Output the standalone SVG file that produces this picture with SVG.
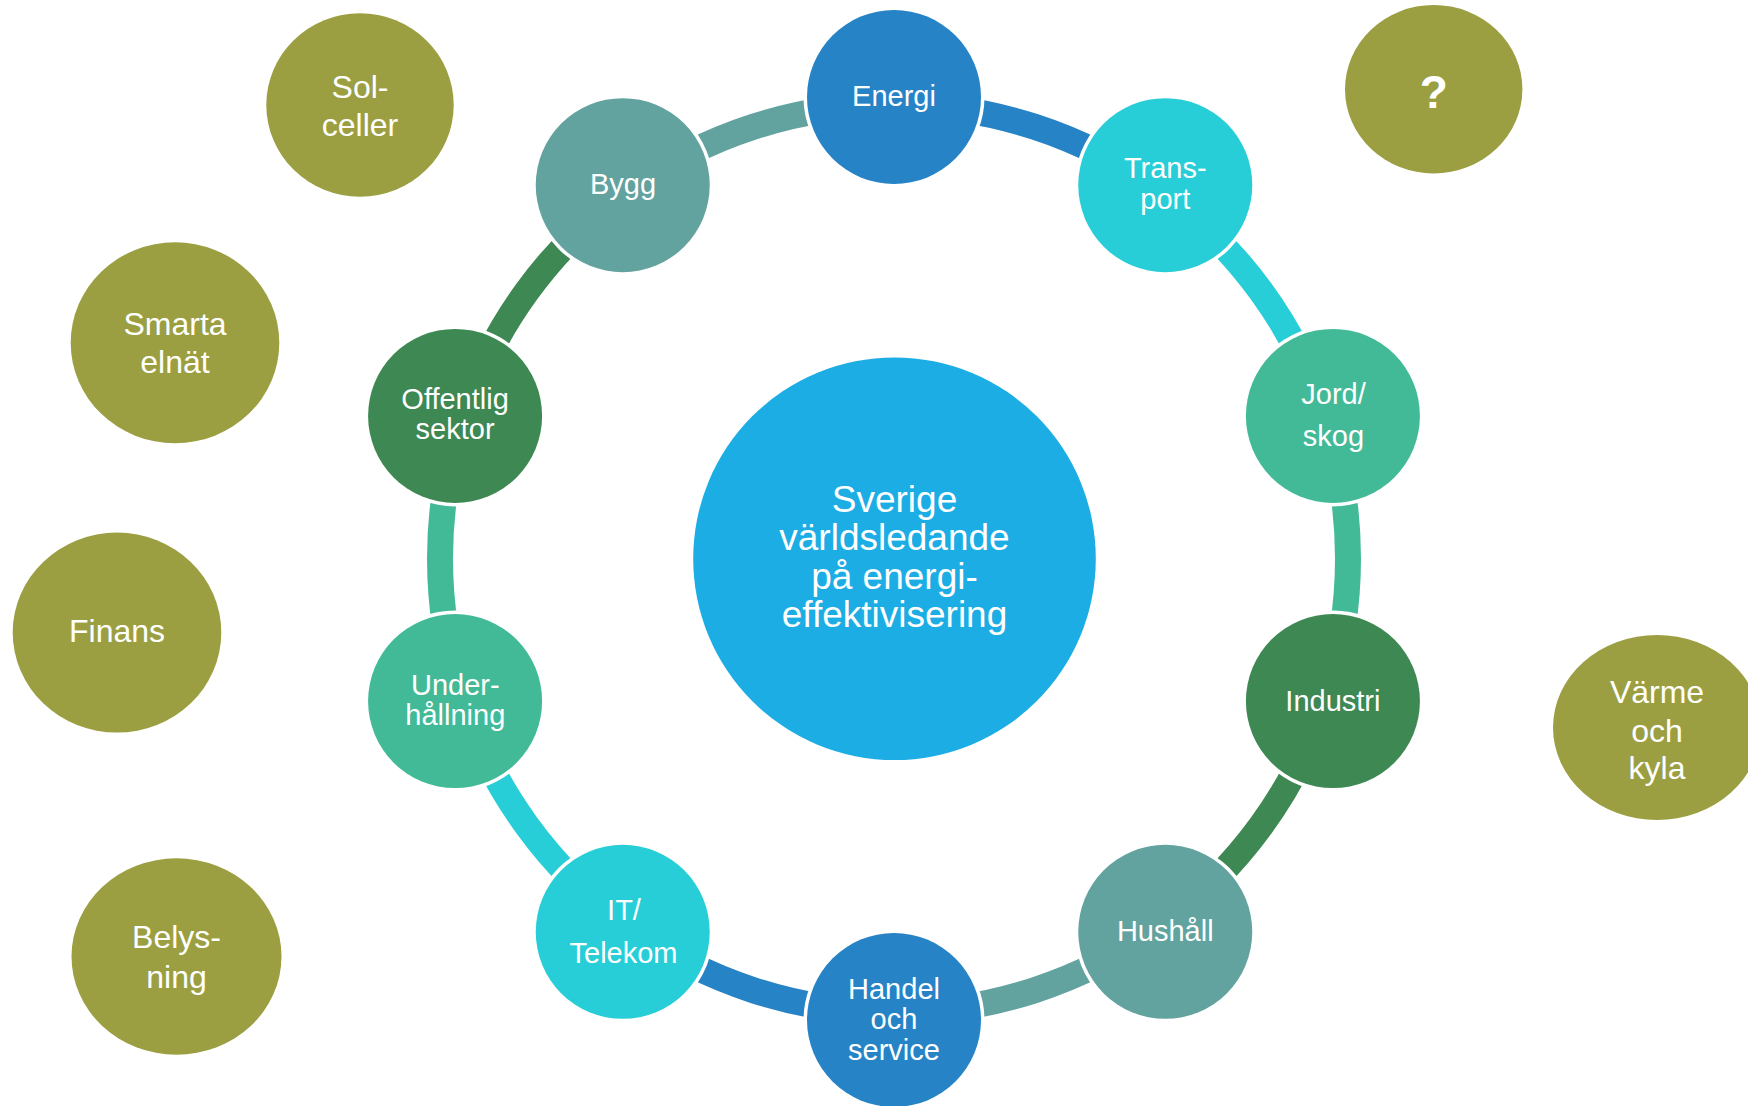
<svg xmlns="http://www.w3.org/2000/svg" width="1748" height="1106" viewBox="0 0 1748 1106">
<style>
  .arc { fill: none; stroke-width: 26; stroke-linecap: butt; }
  .node { stroke: #FFFFFF; stroke-width: 7; paint-order: stroke; }
  .olive { fill: #9B9F41; }
  .t { font-family: "Liberation Sans", Arial, sans-serif; fill: #FFFFFF; text-anchor: middle; }
  .tn { font-size: 29px; }
  .to { font-size: 32px; }
  .tc { font-size: 37px; }
  .tq { font-size: 46px; font-weight: bold; }
  .c1 { fill: #2683C6; } .s1 { stroke: #2683C6; }
  .c2 { fill: #27CED7; } .s2 { stroke: #27CED7; }
  .c3 { fill: #42BA97; } .s3 { stroke: #42BA97; }
  .c4 { fill: #3E8853; } .s4 { stroke: #3E8853; }
  .c5 { fill: #62A39F; } .s5 { stroke: #62A39F; }
</style>
<rect x="0" y="0" width="1748" height="1106" fill="#FFFFFF"/>

<g id="connectors">
  <path class="arc s1" d="M 894 104.5 A 454 454 0 0 1 1160.86 191.21"/>
  <path class="arc s2" d="M 1160.86 191.21 A 454 454 0 0 1 1325.78 418.21"/>
  <path class="arc s3" d="M 1325.78 418.21 A 454 454 0 0 1 1325.78 698.79"/>
  <path class="arc s4" d="M 1325.78 698.79 A 454 454 0 0 1 1160.86 925.79"/>
  <path class="arc s5" d="M 1160.86 925.79 A 454 454 0 0 1 894 1012.5"/>
  <path class="arc s1" d="M 894 1012.5 A 454 454 0 0 1 627.14 925.79"/>
  <path class="arc s2" d="M 627.14 925.79 A 454 454 0 0 1 462.22 698.79"/>
  <path class="arc s3" d="M 462.22 698.79 A 454 454 0 0 1 462.22 418.21"/>
  <path class="arc s4" d="M 462.22 418.21 A 454 454 0 0 1 627.14 191.21"/>
  <path class="arc s5" d="M 627.14 191.21 A 454 454 0 0 1 894 104.5"/>
</g>

<g id="center">
  <circle cx="894.5" cy="558.7" r="201.3" fill="#1CADE4"/>
  <text class="t tc" x="894.5" y="511.7">Sverige</text>
  <text class="t tc" x="894.5" y="550">världsledande</text>
  <text class="t tc" x="894.5" y="589.3">på energi-</text>
  <text class="t tc" x="894.5" y="627.3">effektivisering</text>
</g>

<g id="energi">
  <circle class="node c1" cx="894" cy="97" r="87"/>
  <text class="t tn" x="894" y="106">Energi</text>
</g>
<g id="transport">
  <circle class="node c2" cx="1165.26" cy="185.14" r="87"/>
  <text class="t tn" x="1165.26" y="178.3">Trans-</text>
  <text class="t tn" x="1165.26" y="209.3">port</text>
</g>
<g id="jord-skog">
  <circle class="node c3" cx="1332.91" cy="415.89" r="87"/>
  <text class="t tn" x="1333.5" y="404">Jord/</text>
  <text class="t tn" x="1333.5" y="446">skog</text>
</g>
<g id="industri">
  <circle class="node c4" cx="1332.91" cy="701.11" r="87"/>
  <text class="t tn" x="1332.91" y="710.5">Industri</text>
</g>
<g id="hushall">
  <circle class="node c5" cx="1165.26" cy="931.86" r="87"/>
  <text class="t tn" x="1165.26" y="941">Hushåll</text>
</g>
<g id="handel">
  <circle class="node c1" cx="894" cy="1020" r="87"/>
  <text class="t tn" x="894" y="998.5">Handel</text>
  <text class="t tn" x="894" y="1029">och</text>
  <text class="t tn" x="894" y="1059.5">service</text>
</g>
<g id="it-telekom">
  <circle class="node c2" cx="622.74" cy="931.86" r="87"/>
  <text class="t tn" x="624" y="920">IT/</text>
  <text class="t tn" x="623.5" y="962.5">Telekom</text>
</g>
<g id="underhallning">
  <circle class="node c3" cx="455.09" cy="701.11" r="87"/>
  <text class="t tn" x="455.3" y="694.5">Under-</text>
  <text class="t tn" x="455.3" y="725">hållning</text>
</g>
<g id="offentlig">
  <circle class="node c4" cx="455.09" cy="415.89" r="87"/>
  <text class="t tn" x="455.09" y="409.3">Offentlig</text>
  <text class="t tn" x="455.09" y="439.3">sektor</text>
</g>
<g id="bygg">
  <circle class="node c5" cx="622.74" cy="185.14" r="87"/>
  <text class="t tn" x="623" y="194.3">Bygg</text>
</g>

<g id="solceller">
  <ellipse class="olive" cx="360" cy="105" rx="93.7" ry="91.7"/>
  <text class="t to" x="360" y="97.7">Sol-</text>
  <text class="t to" x="360" y="135.7">celler</text>
</g>
<g id="smarta-elnat">
  <ellipse class="olive" cx="175" cy="342.8" rx="104.3" ry="100.5"/>
  <text class="t to" x="175" y="335">Smarta</text>
  <text class="t to" x="175" y="373.3">elnät</text>
</g>
<g id="finans">
  <ellipse class="olive" cx="117" cy="632.6" rx="104.3" ry="100"/>
  <text class="t to" x="117" y="641.5">Finans</text>
</g>
<g id="belysning">
  <ellipse class="olive" cx="176.5" cy="956.5" rx="105" ry="98.2"/>
  <text class="t to" x="176.5" y="948.4">Belys-</text>
  <text class="t to" x="176.5" y="988">ning</text>
</g>
<g id="varme-kyla">
  <ellipse class="olive" cx="1657" cy="727.5" rx="104" ry="92.5"/>
  <text class="t to" x="1657" y="702.7">Värme</text>
  <text class="t to" x="1657" y="741.7">och</text>
  <text class="t to" x="1657" y="779.3">kyla</text>
</g>
<g id="fraga">
  <ellipse class="olive" cx="1433.7" cy="89.2" rx="88.7" ry="84.2"/>
  <text class="t tq" x="1433.7" y="108.3">?</text>
</g>
</svg>
